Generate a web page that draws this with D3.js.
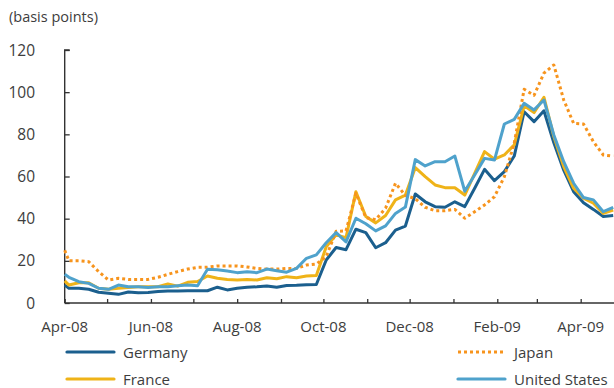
<!DOCTYPE html>
<html>
<head>
<meta charset="utf-8">
<script src="https://cdn.jsdelivr.net/npm/d3@7"></script>
<style>
  html, body { margin: 0; padding: 0; background: #fff; }
  svg { display: block; font-family: "Open Sans", "Noto Sans", sans-serif; }
</style>
</head>
<body>
<svg id="chart" width="614" height="388"></svg>
<script>
// Weekly observations (Fridays), preceded by a month-start reading on 1 April 2008
const firstDate = "2008-04-01";
const weeklyStart = "2008-04-04";
const weekCount = 56;

const germany = [8.5,
  7.0, 7.0, 6.5, 5.1, 4.6, 4.1, 5.2, 4.9, 5.0, 5.4, 5.7, 5.7, 5.8, 5.8,
  5.8, 7.5, 6.2, 7.0, 7.5, 7.7, 8.1, 7.5, 8.3, 8.4, 8.7, 8.8, 20.4, 26.3,
  25.3, 35.0, 33.4, 26.2, 28.6, 34.6, 36.5, 51.7, 48.0, 45.7, 45.4, 48.0,
  45.7, 54.4, 63.4, 58.0, 62.3, 69.7, 90.7, 86.0, 91.2, 76.0, 63.0, 52.8,
  47.6, 44.4, 41.0, 41.5];

const france = [10.5,
  8.5, 9.6, 9.6, 7.0, 6.5, 7.0, 7.4, 7.7, 7.7, 7.7, 9.0, 8.0, 9.8, 10.2,
  12.8, 11.7, 11.2, 10.9, 11.2, 10.9, 12.0, 11.5, 12.5, 12.0, 12.8, 13.0,
  26.7, 32.3, 31.0, 52.8, 41.0, 38.0, 41.5, 48.9, 51.2, 64.2, 59.9, 56.0,
  54.7, 54.7, 51.2, 61.5, 71.8, 68.2, 70.2, 75.0, 93.5, 90.3, 97.6, 78.9,
  64.7, 54.4, 49.7, 47.3, 42.5, 44.1];

const japan = [25.0,
  20.0, 20.0, 19.6, 14.9, 10.9, 11.7, 11.2, 11.2, 11.2, 12.2, 13.6, 14.9,
  16.1, 16.9, 17.0, 17.6, 17.6, 17.6, 17.1, 16.4, 16.1, 16.1, 16.4, 16.4,
  18.0, 18.5, 22.0, 34.0, 34.2, 52.0, 40.5, 39.5, 45.0, 56.8, 51.0, 49.5,
  45.4, 43.8, 43.8, 44.4, 40.2, 43.3, 46.5, 50.4, 59.9, 75.8, 101.4, 98.5,
  109.0, 112.9, 96.3, 85.2, 84.9, 76.5, 70.2, 69.7];

const unitedStates = [13.6,
  12.2, 10.1, 9.3, 7.0, 6.5, 8.5, 7.7, 7.7, 7.4, 7.7, 7.7, 8.2, 8.5, 8.2,
  16.0, 15.8, 15.2, 14.4, 14.8, 14.4, 16.1, 15.3, 14.6, 16.4, 21.2, 22.8,
  28.6, 33.4, 29.0, 40.2, 37.6, 34.2, 36.6, 42.5, 45.5, 68.0, 65.0, 67.0,
  67.0, 69.7, 53.0, 60.7, 68.6, 67.8, 84.9, 87.1, 94.7, 91.6, 96.3, 79.7,
  67.0, 56.8, 50.0, 48.9, 43.3, 45.4];

const yTicks = [0, 20, 40, 60, 80, 100, 120];
const xLabelMonths = ["2008-04-01", "2008-06-01", "2008-08-01", "2008-10-01",
                      "2008-12-01", "2009-02-01", "2009-04-01"];
const axisStart = "2008-04-01";
const axisEnd = "2009-04-24";
const unitLabel = "(basis points)";

const parse = d3.utcParse("%Y-%m-%d");
const dates = [parse(firstDate)].concat(
  d3.range(weekCount).map(i => d3.utcDay.offset(parse(weeklyStart), 7 * i)));

const series = [
  { name: "Germany", values: germany, color: "#1b5f8e", dash: null },
  { name: "France", values: france, color: "#efb318", dash: null },
  { name: "Japan", values: japan, color: "#f7941d", dash: "3,3" },
  { name: "United States", values: unitedStates, color: "#4fa2cc", dash: null }
];

const svg = d3.select("#chart");
const textColor = "#3d3d3d";
const axisColor = "#333";

const x = d3.scaleUtc()
  .domain([parse(axisStart), parse(axisEnd)])
  .range([64.7, 613.2]);
const y = d3.scaleLinear().domain([0, 120]).range([303, 50]);

// Unit caption
svg.append("text")
  .attr("x", 9).attr("y", 22)
  .attr("fill", textColor)
  .attr("font-size", 14.5)
  .text(unitLabel);

// Y axis with inward ticks
const yAxis = svg.append("g")
  .attr("transform", `translate(${x.range()[0]},0)`)
  .call(d3.axisRight(y).tickValues(yTicks).tickSize(5).tickFormat(""));
yAxis.select(".domain").attr("stroke", axisColor).attr("stroke-width", 1.4)
  .attr("d", `M5,${y(120)}H0V${y(0)}`);
yAxis.selectAll(".tick line").attr("stroke", axisColor).attr("stroke-width", 1.3);

svg.append("g").selectAll("text").data(yTicks).join("text")
  .attr("x", 35).attr("y", d => y(d) + 5.5)
  .attr("text-anchor", "end")
  .attr("fill", textColor)
  .attr("font-size", 15.5)
  .text(d => d);

// X axis with monthly inward ticks
const xAxis = svg.append("g")
  .attr("transform", `translate(0,${y(0)})`)
  .call(d3.axisTop(x).ticks(d3.utcMonth.every(1)).tickSize(4).tickFormat(""));
xAxis.select(".domain").attr("stroke", axisColor).attr("stroke-width", 1.4)
  .attr("d", `M${x.range()[0]},0H${x.range()[1] + 1}`);
xAxis.selectAll(".tick line").attr("stroke", axisColor).attr("stroke-width", 1.3);

const fmt = d3.utcFormat("%b-%y");
svg.append("g").selectAll("text").data(xLabelMonths.map(parse)).join("text")
  .attr("x", d => x(d)).attr("y", 332)
  .attr("text-anchor", "middle")
  .attr("fill", textColor)
  .attr("font-size", 15)
  .text(d => fmt(d));

// Series lines
const line = d3.line()
  .x((d, i) => x(dates[i]))
  .y(d => y(d));

svg.append("g").selectAll("path").data(series).join("path")
  .attr("fill", "none")
  .attr("stroke", d => d.color)
  .attr("stroke-width", 3)
  .attr("stroke-linejoin", "round")
  .attr("stroke-dasharray", d => d.dash)
  .attr("d", d => line(d.values));

// Legend
const legendPos = [
  { lx: 67, ly: 352 }, { lx: 67, ly: 379 },
  { lx: 458, ly: 352 }, { lx: 458, ly: 379 }
];
const legend = svg.append("g").selectAll("g").data(series).join("g")
  .attr("transform", (d, i) => `translate(${legendPos[i].lx},${legendPos[i].ly})`);
legend.append("line")
  .attr("x1", 0).attr("x2", 47).attr("y1", 0).attr("y2", 0)
  .attr("stroke", d => d.color)
  .attr("stroke-width", 3.2)
  .attr("stroke-linecap", d => d.dash ? "butt" : "round")
  .attr("stroke-dasharray", d => d.dash);
legend.append("text")
  .attr("x", 56).attr("y", 5.5)
  .attr("fill", textColor)
  .attr("font-size", 15)
  .text(d => d.name);
</script>
</body>
</html>
